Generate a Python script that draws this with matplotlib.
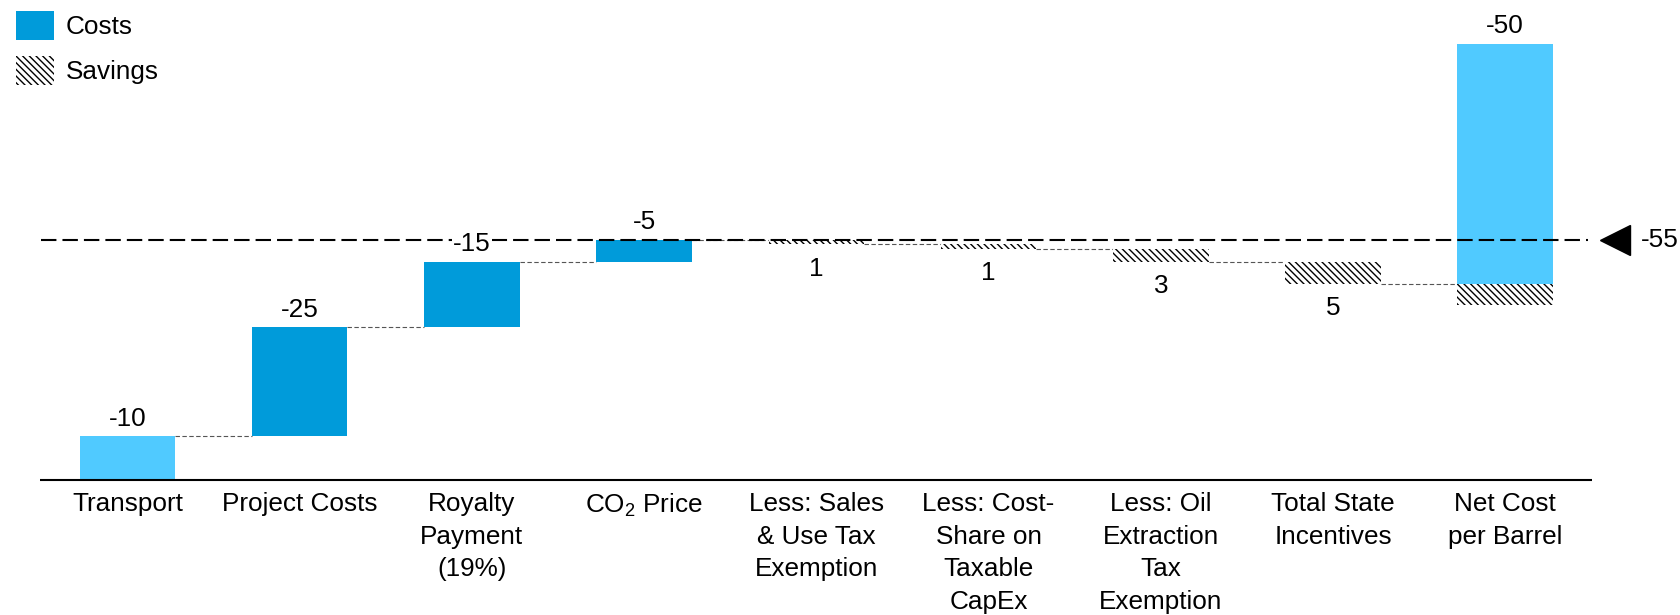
import matplotlib
matplotlib.use("Agg")
import matplotlib.pyplot as plt
from matplotlib.patches import Patch

plt.rcParams["font.family"] = ["Liberation Sans", "DejaVu Sans"]
plt.rcParams["mathtext.fontset"] = "custom"
plt.rcParams["mathtext.rm"] = "Liberation Sans"
plt.rcParams["mathtext.it"] = "Liberation Sans:italic"
plt.rcParams["hatch.linewidth"] = 1.0

# ---- data -------------------------------------------------------------
categories = [
    "Transport",
    "Project Costs",
    "Royalty\nPayment\n(19%)",
    "CO$_2$ Price",
    "Less: Sales\n& Use Tax\nExemption",
    "Less: Cost-\nShare on\nTaxable\nCapEx",
    "Less: Oil\nExtraction\nTax\nExemption",
    "Total State\nIncentives",
    "Net Cost\nper Barrel",
]
cost_values = [-10, -25, -15, -5]          # Transport .. CO2 price
saving_values = [1, 1, 3]                  # individual incentives
total_incentives = 5                       # Total State Incentives
net_cost = -50                             # Net Cost per Barrel
target_cost = -55                          # reference level

# ---- style ------------------------------------------------------------
DARK = "#009BDA"
LIGHT = "#50CAFF"
cost_colors = [LIGHT, DARK, DARK, DARK]
HATCH = "\\" * 5
FS = 18.8
BAR_W = 0.555

fig = plt.figure(figsize=(16.8, 6.15), dpi=100)
# plot area: baseline sits 135 px above the bottom edge
ax = fig.add_axes([0, 135 / 615, 1, 480 / 615])
ax.set_xlim(-0.740, 9.015)
ax.set_ylim(0, 110.0)
ax.set_frame_on(False)
ax.set_yticks([])

conn_kw = dict(color="#555555", lw=0.8, linestyle=(0, (4.0, 2.2)), zorder=1)

level = 0.0
# cost bars build upward
for i, (v, c) in enumerate(zip(cost_values, cost_colors)):
    h = -v
    ax.bar(i, h, bottom=level, width=BAR_W, color=c, lw=0, zorder=2)
    if i > 0:
        ax.hlines(level, i - 1 + BAR_W / 2, i - BAR_W / 2, **conn_kw)
    ax.annotate(f"{v}", (i, level + h), xytext=(0, 4), textcoords="offset points",
                ha="center", va="bottom", fontsize=FS, zorder=6,
                bbox=dict(boxstyle="square,pad=0.05", fc="white", ec="none"))
    level += h

gross = level
# savings bars step downward
steps = saving_values + [total_incentives]
for j, s in enumerate(steps):
    i = len(cost_values) + j
    ax.hlines(level, i - 1 + BAR_W / 2, i - BAR_W / 2, **conn_kw)
    ax.bar(i, -s, bottom=level, width=BAR_W, color="white", edgecolor="black",
           hatch=HATCH, lw=0, zorder=2)
    ax.annotate(f"{s}", (i, level - s), xytext=(0, -9), textcoords="offset points",
                ha="center", va="top", fontsize=FS, zorder=6)
    level -= s

# net bar: gross cost with the incentive portion hatched below
i_net = len(categories) - 1
ax.hlines(level, i_net - 1 + BAR_W / 2, i_net - BAR_W / 2, **conn_kw)
ax.bar(i_net, gross, bottom=level, width=BAR_W, color=LIGHT, lw=0, zorder=2)
ax.bar(i_net, -total_incentives, bottom=level, width=BAR_W, color="white",
       edgecolor="black", hatch=HATCH, lw=0, zorder=2)
ax.annotate(f"{net_cost}", (i_net, level + gross), xytext=(0, 4),
            textcoords="offset points", ha="center", va="bottom", fontsize=FS)

# target reference line with marker
ax.hlines(-target_cost, -0.503, 8.48, color="black", lw=1.5,
          linestyle=(0, (7.4, 2.9)), zorder=4)
ax.plot([8.64], [-target_cost], marker="<", markersize=22, color="black",
        lw=0, zorder=5, clip_on=False)
ax.text(8.79, -target_cost, f"{target_cost}", ha="left", va="center",
        fontsize=FS)

# baseline
ax.hlines(0, -0.508, 8.505, color="black", lw=1.5, zorder=3, clip_on=False)

ax.set_xticks(range(len(categories)))
ax.set_xticklabels(categories, fontsize=FS, multialignment="center",
                   linespacing=1.46)
ax.tick_params(axis="x", length=0, pad=8.5)

handles = [Patch(facecolor=DARK, lw=0, label="Costs"),
           Patch(facecolor="white", edgecolor="black", hatch=HATCH, lw=0,
                 label="Savings")]
ax.legend(handles=handles, loc="upper left",
          bbox_to_anchor=(16 / 1680, 1 - 11 / 615),
          bbox_transform=fig.transFigure, frameon=False, fontsize=FS,
          handlelength=1.46, handleheight=1.34, handletextpad=0.45,
          labelspacing=0.6, borderpad=0, borderaxespad=0)

fig.savefig("out.png", dpi=100)
